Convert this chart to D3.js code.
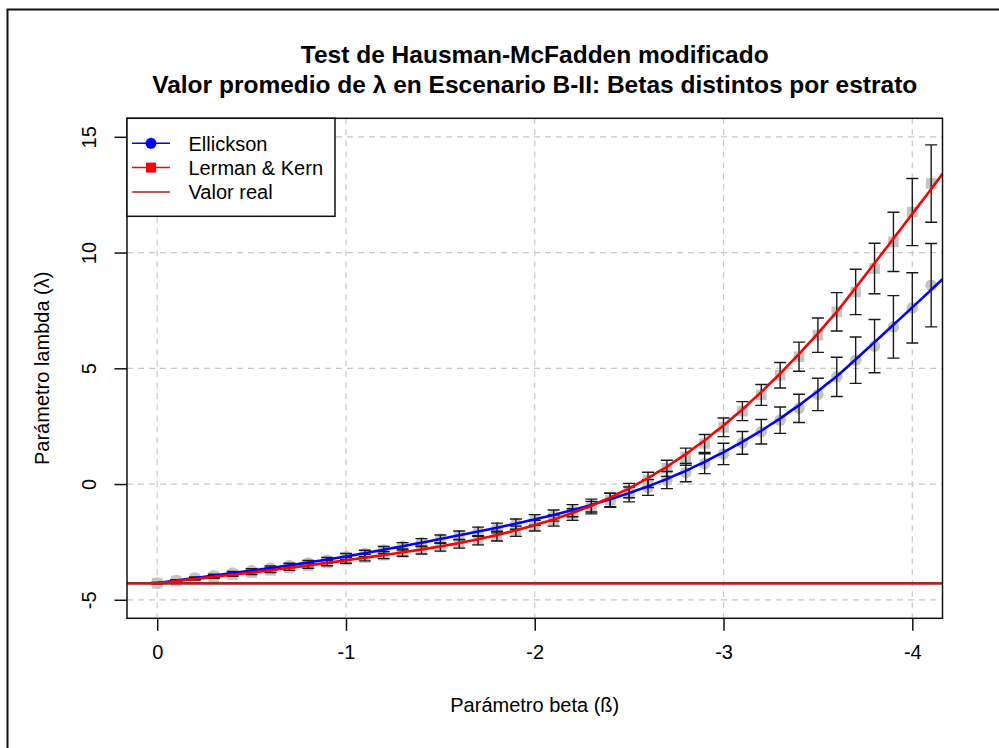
<!DOCTYPE html>
<html>
<head>
<meta charset="utf-8">
<script src="https://cdn.jsdelivr.net/npm/d3@7"></script>
<style>
  html, body { margin: 0; padding: 0; background: #fff; }
  svg { display: block; font-family: "Liberation Sans", Arial, Helvetica, sans-serif; }
</style>
</head>
<body>
<svg id="chart" width="999" height="748"></svg>
<script>
// Beta values evaluated in the simulation (0 down to -4.1)
const betas = d3.range(0, 42).map(i => -i / 10);

// Mean lambda, Ellickson estimator
const ellickson = [
  -4.28, -4.17, -4.06, -3.96, -3.85, -3.74, -3.63, -3.52, -3.41, -3.29,
  -3.13, -3.00, -2.85, -2.69, -2.53, -2.38, -2.22, -2.06, -1.90, -1.73,
  -1.55, -1.36, -1.15, -0.93, -0.70, -0.45, -0.15, 0.17, 0.50, 0.88,
  1.30, 1.78, 2.26, 2.76, 3.27, 3.87, 4.63, 5.35, 5.96, 6.79,
  7.61, 8.59
];
// Half-width of the error bars, Ellickson
const ellicksonErr = [
  0.03, 0.04, 0.05, 0.06, 0.07, 0.08, 0.09, 0.10, 0.11, 0.12,
  0.13, 0.14, 0.15, 0.16, 0.17, 0.18, 0.19, 0.20, 0.21, 0.22,
  0.23, 0.24, 0.26, 0.28, 0.30, 0.32, 0.34, 0.37, 0.40, 0.43,
  0.46, 0.49, 0.53, 0.57, 0.61, 0.70, 0.85, 1.00, 1.15, 1.35,
  1.52, 1.80
];

// Mean lambda, Lerman & Kern estimator
const lermanKern = [
  -4.28, -4.19, -4.10, -4.01, -3.92, -3.83, -3.73, -3.63, -3.53, -3.41,
  -3.29, -3.18, -3.07, -2.96, -2.85, -2.72, -2.58, -2.43, -2.25, -2.04,
  -1.80, -1.58, -1.32, -1.02, -0.69, -0.28, 0.18, 0.68, 1.18, 1.75,
  2.45, 3.15, 3.85, 4.70, 5.50, 6.43, 7.44, 8.30, 9.31, 10.46,
  11.75, 12.98
];
// Half-width of the error bars, Lerman & Kern
const lermanKernErr = [
  0.03, 0.04, 0.05, 0.06, 0.07, 0.08, 0.09, 0.10, 0.11, 0.12,
  0.13, 0.14, 0.15, 0.16, 0.17, 0.18, 0.19, 0.20, 0.21, 0.22,
  0.23, 0.24, 0.25, 0.27, 0.29, 0.31, 0.33, 0.35, 0.37, 0.39,
  0.40, 0.41, 0.45, 0.55, 0.63, 0.74, 0.83, 0.98, 1.09, 1.28,
  1.45, 1.67
];

// True lambda value
const valorReal = -4.29;

const xTicks = [0, -1, -2, -3, -4];
const yTicks = [-5, 0, 5, 10, 15];

const svg = d3.select("#chart");

// Outer device frame
svg.append("rect")
  .attr("x", 7.5).attr("y", 9.5).attr("width", 1200).attr("height", 1000)
  .attr("fill", "none").attr("stroke", "#111").attr("stroke-width", 2);

const pLeft = 127, pRight = 942.5, pTop = 118.3, pBottom = 618.3;
const x = d3.scaleLinear().domain([0.16, -4.16]).range([pLeft, pRight]);
const y = d3.scaleLinear().domain([-5.8, 15.8]).range([pBottom, pTop]);

svg.append("clipPath").attr("id", "plotClip")
  .append("rect").attr("x", pLeft).attr("y", pTop)
  .attr("width", pRight - pLeft).attr("height", pBottom - pTop);

// Dashed grid
const grid = svg.append("g").attr("stroke", "#c8c8c8").attr("stroke-width", 1.2)
  .attr("stroke-dasharray", "6,5");
grid.selectAll(".gx").data(xTicks).join("line")
  .attr("x1", d => x(d)).attr("x2", d => x(d)).attr("y1", pTop).attr("y2", pBottom);
grid.selectAll(".gy").data(yTicks).join("line")
  .attr("y1", d => y(d)).attr("y2", d => y(d)).attr("x1", pLeft).attr("x2", pRight);

const plot = svg.append("g").attr("clip-path", "url(#plotClip)");

// Local linear (loess-style) smoother with tricube weights over k nearest points
function loess(xs, ys, k) {
  return x0 => {
    const d = xs.map(v => Math.abs(v - x0));
    const h = d.slice().sort((a, b) => a - b)[k - 1] * 1.0001 + 1e-9;
    let sw = 0, sx = 0, sy = 0, sxx = 0, sxy = 0;
    xs.forEach((xv, i) => {
      const u = d[i] / h;
      if (u >= 1) return;
      const w = Math.pow(1 - u * u * u, 3);
      sw += w; sx += w * xv; sy += w * ys[i];
      sxx += w * xv * xv; sxy += w * xv * ys[i];
    });
    const mx = sx / sw, my = sy / sw;
    const slope = (sxy / sw - mx * my) / (sxx / sw - mx * mx);
    return my + slope * (x0 - mx);
  };
}

const series = [
  {name: "Ellickson", values: ellickson, err: ellicksonErr, color: "#0000ff", shape: "circle"},
  {name: "Lerman & Kern", values: lermanKern, err: lermanKernErr, color: "#ff0000", shape: "square"}
];

// Grey markers at each mean
series.forEach(s => {
  const pts = betas.map((b, i) => ({b, v: s.values[i]}));
  if (s.shape === "circle") {
    plot.selectAll(null).data(pts).join("circle")
      .attr("cx", d => x(d.b)).attr("cy", d => y(d.v)).attr("r", 5.8)
      .attr("fill", "#c4c4c4");
  } else {
    plot.selectAll(null).data(pts).join("rect")
      .attr("x", d => x(d.b) - 5.3).attr("y", d => y(d.v) - 5.3)
      .attr("width", 10.6).attr("height", 10.6)
      .attr("fill", "#c4c4c4");
  }
});

// Error bars
series.forEach(s => {
  const pts = betas.map((b, i) => ({b, lo: s.values[i] - s.err[i], hi: s.values[i] + s.err[i]}));
  const g = plot.append("g").attr("stroke", "#1a1a1a").attr("stroke-width", 1.4).attr("fill", "none");
  g.selectAll(null).data(pts).join("path")
    .attr("d", d => {
      const cx = x(d.b), y0 = y(d.lo), y1 = y(d.hi), w = 6;
      return `M${cx},${y0}V${y1}M${cx - w},${y1}H${cx + w}M${cx - w},${y0}H${cx + w}`;
    });
});

// Smoothed trend lines, from beta = 0 to the right edge of the plot
const fineBetas = d3.range(0, 209).map(i => -i * 0.02);
series.forEach(s => {
  const f = loess(betas, s.values, 11);
  plot.append("path")
    .datum(fineBetas)
    .attr("fill", "none").attr("stroke", s.color).attr("stroke-width", 2.6)
    .attr("d", d3.line().x(d => x(d)).y(d => y(f(d))));
});

// True value
plot.append("line")
  .attr("x1", pLeft).attr("x2", pRight).attr("y1", y(valorReal)).attr("y2", y(valorReal))
  .attr("stroke", "#b22222").attr("stroke-width", 2.6);

// Plot box
svg.append("rect")
  .attr("x", pLeft).attr("y", pTop).attr("width", pRight - pLeft).attr("height", pBottom - pTop)
  .attr("fill", "none").attr("stroke", "#111").attr("stroke-width", 1.5);

// Axes
const fmt = d => String(d);
const xAxis = svg.append("g").attr("transform", `translate(0,${pBottom})`)
  .call(d3.axisBottom(x).tickValues(xTicks).tickSize(12.5).tickPadding(14).tickFormat(fmt));
xAxis.select(".domain").remove();
xAxis.selectAll("line").attr("stroke", "#111").attr("stroke-width", 1.5);
xAxis.selectAll("text").attr("font-size", 20).attr("fill", "#000")
  .attr("font-family", '"Liberation Sans", Arial, sans-serif');

const yAxis = svg.append("g").attr("transform", `translate(${pLeft},0)`)
  .call(d3.axisLeft(y).tickValues(yTicks).tickSize(12.5).tickFormat(fmt));
yAxis.select(".domain").remove();
yAxis.selectAll("line").attr("stroke", "#111").attr("stroke-width", 1.5);
yAxis.selectAll("text")
  .attr("font-size", 20).attr("fill", "#000")
  .attr("font-family", '"Liberation Sans", Arial, sans-serif')
  .attr("text-anchor", "middle").attr("dy", null).attr("x", null)
  .attr("transform", "translate(-36,0) rotate(-90)")
  .attr("y", 0).attr("dominant-baseline", "middle");

// Titles
const title = svg.append("g").attr("font-weight", "bold").attr("font-size", 24.5)
  .attr("text-anchor", "middle");
title.append("text").attr("x", (pLeft + pRight) / 2).attr("y", 63)
  .text("Test de Hausman-McFadden modificado");
title.append("text").attr("x", (pLeft + pRight) / 2).attr("y", 93)
  .text("Valor promedio de λ en Escenario B-II: Betas distintos por estrato");

svg.append("text").attr("x", (pLeft + pRight) / 2).attr("y", 712)
  .attr("text-anchor", "middle").attr("font-size", 20)
  .text("Parámetro beta (ß)");
svg.append("text")
  .attr("transform", `translate(49,${(pTop + pBottom) / 2}) rotate(-90)`)
  .attr("text-anchor", "middle").attr("font-size", 20)
  .text("Parámetro lambda (λ)");

// Legend
const legend = svg.append("g");
legend.append("rect").attr("x", pLeft).attr("y", pTop).attr("width", 208).attr("height", 98)
  .attr("fill", "#fff").attr("stroke", "#111").attr("stroke-width", 1.5);
const legendItems = [
  {label: "Ellickson", color: "#0000ff", shape: "circle"},
  {label: "Lerman & Kern", color: "#ff0000", shape: "square"},
  {label: "Valor real", color: "#b22222", shape: null}
];
legendItems.forEach((it, i) => {
  const ly = 143.3 + i * 24.3;
  legend.append("line").attr("x1", 132).attr("x2", 170).attr("y1", ly).attr("y2", ly)
    .attr("stroke", it.color).attr("stroke-width", 1.5);
  if (it.shape === "circle") {
    legend.append("circle").attr("cx", 151).attr("cy", ly).attr("r", 5.5).attr("fill", it.color);
  } else if (it.shape === "square") {
    legend.append("rect").attr("x", 146).attr("y", ly - 5).attr("width", 10).attr("height", 10)
      .attr("fill", it.color);
  }
  legend.append("text").attr("x", 188.5).attr("y", ly).attr("dy", "0.36em")
    .attr("font-size", 20).text(it.label);
});
</script>
</body>
</html>
